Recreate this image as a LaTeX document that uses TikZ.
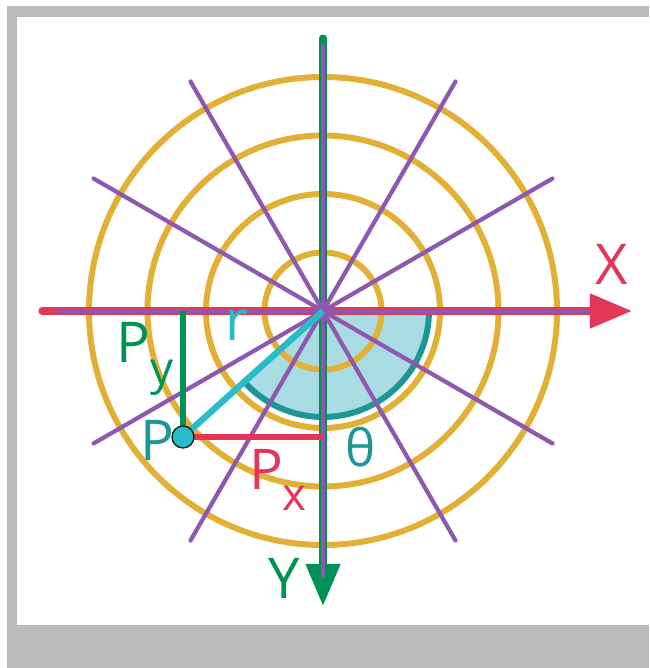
\documentclass[tikz,border=0pt]{standalone}
\usepackage{fontspec}
\setmainfont{Open Sans}
\usetikzlibrary{arrows.meta}
\definecolor{ringgold}{HTML}{E2B034}
\definecolor{spokepurple}{HTML}{8F58B0}
\definecolor{axisred}{HTML}{E33658}
\definecolor{axisgreen}{HTML}{009254}
\definecolor{radcyan}{HTML}{28BCC8}
\definecolor{darkteal}{HTML}{1C9696}
\definecolor{lightteal}{HTML}{A8DCE2}
\definecolor{framegray}{HTML}{BBBBBB}
\newcommand{\sub}[1]{\raisebox{-0.38em}{\fontsize{26}{28}\selectfont #1}}
\begin{document}
\begin{tikzpicture}[x=0.02cm,y=0.02cm,line cap=round]
    \tikzset{ring/.style={draw=ringgold, line width=3.4pt},
             spoke/.style={draw=spokepurple, line width=2.4pt},
             axis/.style={line width=4pt, -{Triangle[length=24pt,width=19pt]}},
             lbl/.style={font=\fontsize{32}{36}\selectfont, inner sep=0pt}}
    \useasboundingbox (-323,-357) rectangle (326,311);
    \fill[white] (-323,-357) rectangle (326,311);
    \fill[framegray] (-316,-357) rectangle (326,305);
    \fill[white] (-306,-314) rectangle (326,294);
    \coordinate (O) at (0,0);
    \coordinate (P) at (-140,-126);
    \coordinate (Pyt) at (-140,0);
    \coordinate (Pxr) at (0,-126);
    \fill[lightteal] (O) -- (0:106) arc[start angle=0, end angle=-138, radius=106] -- cycle;
    \draw[darkteal, line width=3.4pt, line cap=butt] (0:106) arc[start angle=0, end angle=-138, radius=106];
    \foreach \r in {58.5,117,175.5,234}
        \draw[ring] (O) circle[radius=\r];
    \coordinate (xs) at (-281,0);
    \coordinate (xe) at (309,0);
    \coordinate (ys) at (0,273);
    \coordinate (ye) at (0,-295);
    \draw[axis, axisred] (xs) -- (xe);
    \draw[axis, axisgreen] (ys) -- (ye);
    \foreach \a in {0,30,...,330}
        \draw[spoke] (O) -- (\a:265);
    \draw[radcyan, line width=3.6pt, line cap=butt] (O) -- (P);
    \draw[axisgreen, line width=3.2pt, line cap=butt] (Pyt) -- (P);
    \draw[axisred, line width=3.2pt, line cap=butt] (P) -- (Pxr);
    \node[circle, fill=radcyan, draw=black!75!darkteal, line width=0.8pt, minimum size=12.5pt, inner sep=0pt] (pt) at (P) {};
    \node[lbl, text=axisred] (xlbl) at (289,47) {X};
    \node[lbl, text=axisgreen] (ylbl) at (-39,-267) {Y};
    \node[lbl, text=darkteal] (plbl) at (-166,-129) {P};
    \node[lbl, text=radcyan] (rlbl) at (-86,-14) {r};
    \node[lbl, text=darkteal, font=\fontsize{29}{32}\selectfont] (tlbl) at (38,-136) {θ};
    \node[lbl, text=axisgreen] (pylbl) at (-178,-48) {P\sub{y}};
    \node[lbl, text=axisred] (pxlbl) at (-45,-169) {P\sub{x}};
\end{tikzpicture}
\end{document}
